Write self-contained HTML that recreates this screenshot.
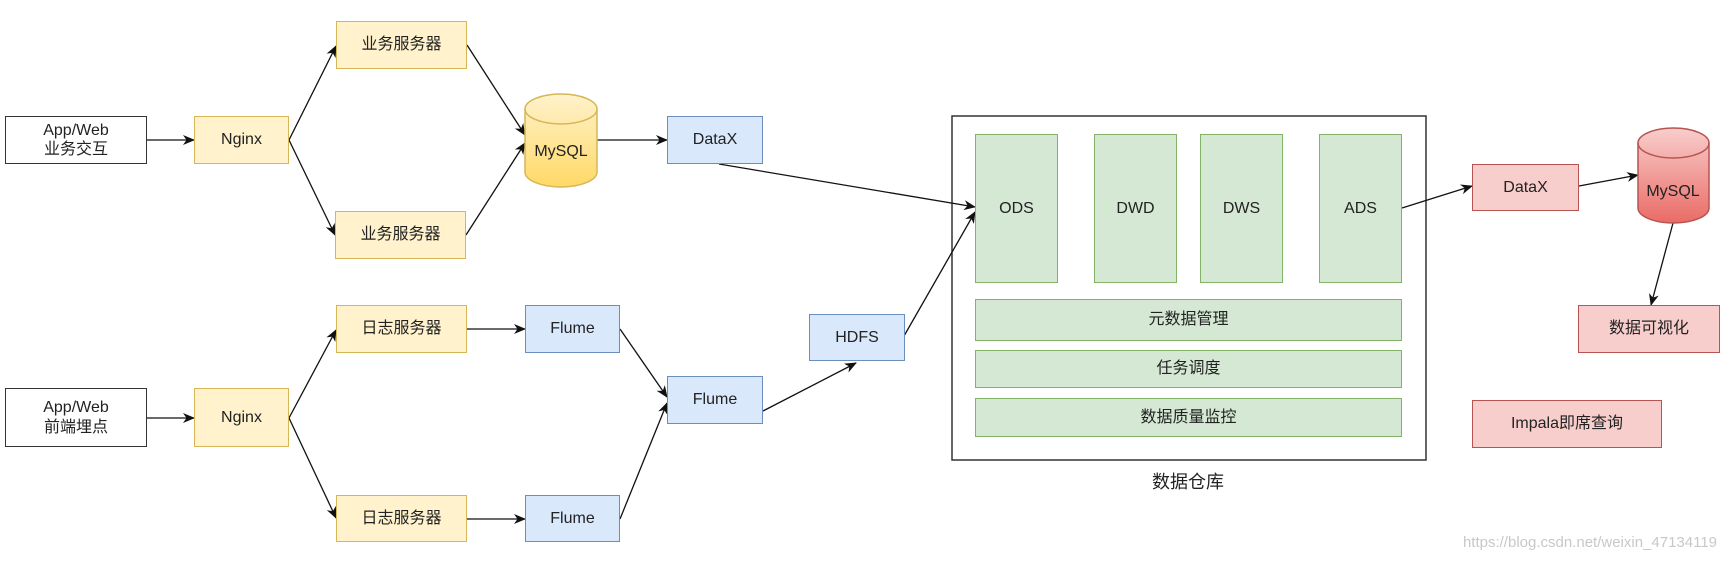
<!DOCTYPE html>
<html><head><meta charset="utf-8"><style>
html,body{margin:0;padding:0;background:#fff;}
body{width:1734px;height:561px;overflow:hidden;position:relative;font-family:"Liberation Sans","Noto Sans CJK SC",sans-serif;}
.b{position:absolute;box-sizing:border-box;display:flex;align-items:center;justify-content:center;text-align:center;font-size:16px;color:#222;line-height:1.2;}
.w{background:#fff;border:1.5px solid #333;}
.y{background:#fff2cc;border:1.5px solid #d6b656;}
.u{background:#dae8fc;border:1.5px solid #6c8ebf;}
.g{background:#d5e8d4;border:1.5px solid #82b366;}
.r{background:#f8cecc;border:1.5px solid #b85450;}
svg{position:absolute;left:0;top:0;}
</style></head><body>
<svg width="1734" height="561">
<defs>
<marker id="a" markerWidth="12" markerHeight="12" refX="11" refY="6" orient="auto" markerUnits="userSpaceOnUse"><path d="M0,1 L12,6 L0,11 L3.5,6 z" fill="#111"/></marker>
<linearGradient id="gy" x1="0" y1="0" x2="0" y2="1"><stop offset="0" stop-color="#fff2cc"/><stop offset="1" stop-color="#ffd966"/></linearGradient>
<linearGradient id="gr" x1="0" y1="0" x2="0" y2="1"><stop offset="0" stop-color="#f8cecc"/><stop offset="1" stop-color="#ea6b66"/></linearGradient>
</defs>
<rect x="952" y="116" width="474" height="344" fill="#fff" stroke="#333" stroke-width="1.5"/>
<g stroke="#111" stroke-width="1.3" fill="none" marker-end="url(#a)">
<line x1="147" y1="140" x2="194" y2="140"/>
<line x1="289" y1="140" x2="336" y2="46"/>
<line x1="289" y1="140" x2="335" y2="235"/>
<line x1="467" y1="45" x2="525" y2="135"/>
<line x1="466" y1="235" x2="525" y2="143"/>
<line x1="597" y1="140" x2="667" y2="140"/>
<line x1="719" y1="164" x2="975" y2="207"/>
<line x1="904" y1="336" x2="975" y2="212"/>
<line x1="147" y1="418" x2="194" y2="418"/>
<line x1="289" y1="418" x2="336" y2="330"/>
<line x1="289" y1="418" x2="336" y2="518"/>
<line x1="467" y1="329" x2="525" y2="329"/>
<line x1="467" y1="519" x2="525" y2="519"/>
<line x1="620" y1="329" x2="667" y2="397"/>
<line x1="620" y1="519" x2="667" y2="403"/>
<line x1="763" y1="411" x2="856" y2="363"/>
<line x1="1402" y1="208" x2="1472" y2="186"/>
<line x1="1579" y1="186" x2="1638" y2="175"/>
<line x1="1673" y1="223" x2="1651" y2="305"/>
</g>
<path d="M525,109 L525,172 A36,15 0 0 0 597,172 L597,109 A36,15 0 0 0 525,109 z" fill="url(#gy)" stroke="#d6b656" stroke-width="1.5"/>
<path d="M525,109 A36,15 0 0 0 597,109" fill="none" stroke="#d6b656" stroke-width="1.5"/>
<text x="561" y="156" text-anchor="middle" font-size="16" fill="#222" font-family="Liberation Sans,sans-serif">MySQL</text>
<path d="M1638,143 L1638,208 A35.5,15 0 0 0 1709,208 L1709,143 A35.5,15 0 0 0 1638,143 z" fill="url(#gr)" stroke="#b85450" stroke-width="1.5"/>
<path d="M1638,143 A35.5,15 0 0 0 1709,143" fill="none" stroke="#b85450" stroke-width="1.5"/>
<text x="1673" y="196" text-anchor="middle" font-size="16" fill="#222" font-family="Liberation Sans,sans-serif">MySQL</text>
</svg>
<div class="b w" style="left:5px;top:116px;width:142px;height:48px">App/Web<br>业务交互</div>
<div class="b y" style="left:194px;top:116px;width:95px;height:48px">Nginx</div>
<div class="b y" style="left:336px;top:21px;width:131px;height:48px">业务服务器</div>
<div class="b y" style="left:335px;top:211px;width:131px;height:48px">业务服务器</div>
<div class="b u" style="left:667px;top:116px;width:96px;height:48px">DataX</div>
<div class="b w" style="left:5px;top:388px;width:142px;height:59px">App/Web<br>前端埋点</div>
<div class="b y" style="left:194px;top:388px;width:95px;height:59px">Nginx</div>
<div class="b y" style="left:336px;top:305px;width:131px;height:48px">日志服务器</div>
<div class="b y" style="left:336px;top:495px;width:131px;height:47px">日志服务器</div>
<div class="b u" style="left:525px;top:305px;width:95px;height:48px">Flume</div>
<div class="b u" style="left:525px;top:495px;width:95px;height:47px">Flume</div>
<div class="b u" style="left:667px;top:376px;width:96px;height:48px">Flume</div>
<div class="b u" style="left:809px;top:314px;width:96px;height:47px">HDFS</div>
<div class="b g" style="left:975px;top:134px;width:83px;height:149px">ODS</div>
<div class="b g" style="left:1094px;top:134px;width:83px;height:149px">DWD</div>
<div class="b g" style="left:1200px;top:134px;width:83px;height:149px">DWS</div>
<div class="b g" style="left:1319px;top:134px;width:83px;height:149px">ADS</div>
<div class="b g" style="left:975px;top:299px;width:427px;height:42px">元数据管理</div>
<div class="b g" style="left:975px;top:350px;width:427px;height:38px">任务调度</div>
<div class="b g" style="left:975px;top:398px;width:427px;height:39px">数据质量监控</div>
<div class="b" style="left:1100px;top:470px;width:176px;height:26px;font-size:18px">数据仓库</div>
<div class="b r" style="left:1472px;top:164px;width:107px;height:47px">DataX</div>
<div class="b r" style="left:1578px;top:305px;width:142px;height:48px">数据可视化</div>
<div class="b r" style="left:1472px;top:400px;width:190px;height:48px">Impala即席查询</div>
<div class="b" style="left:1450px;top:532px;width:280px;height:22px;font-size:15px;color:#c8c8c8">https://blog.csdn.net/weixin_47134119</div>
</body></html>
